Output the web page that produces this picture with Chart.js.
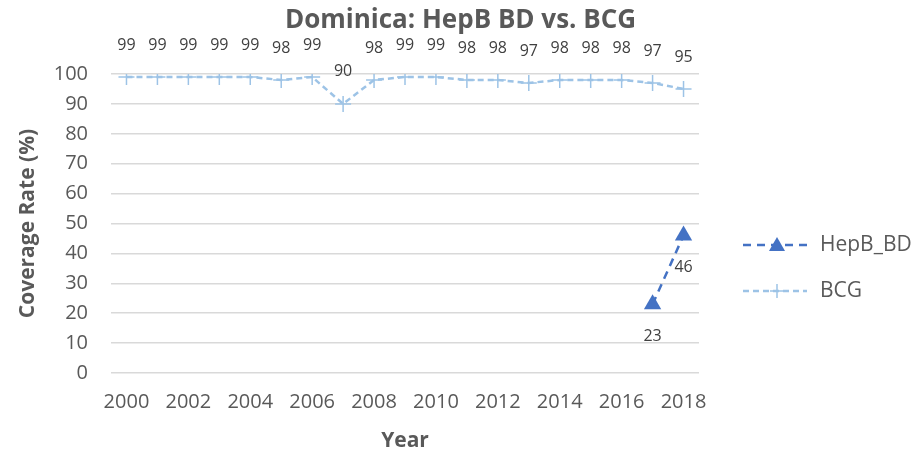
<!DOCTYPE html>
<html>
<head>
<meta charset="utf-8">
<script src="https://cdn.jsdelivr.net/npm/chart.js@4/dist/chart.umd.min.js"></script>
<style>
  html, body { margin: 0; padding: 0; background: #fff; }
  #wrap { width: 913px; height: 455px; }
</style>
</head>
<body>
<div id="wrap"><canvas id="chart" width="913" height="455"></canvas></div>
<script>
// chart data
const years = ['2000','2001','2002','2003','2004','2005','2006','2007','2008','2009',
               '2010','2011','2012','2013','2014','2015','2016','2017','2018'];
const bcg = [99, 99, 99, 99, 99, 98, 99, 90, 98, 99, 99, 98, 98, 97, 98, 98, 98, 97, 95];
const hepbBD = [null, null, null, null, null, null, null, null, null, null,
                null, null, null, null, null, null, null, 23, 46];

const FONT = '"Open Sans", "Liberation Sans", sans-serif';
const TEXT = '#595959';
const HEPB_COLOR = '#4472C4';
const BCG_COLOR = '#9DC3E6';

// value labels, title and legend, drawn the Excel way
const extras = {
  id: 'extras',
  afterDatasetsDraw(chart) {
    const ctx = chart.ctx;
    const area = chart.chartArea;
    ctx.save();

    // value labels
    ctx.font = '16px ' + FONT;
    ctx.fillStyle = '#404040';
    ctx.textAlign = 'center';
    ctx.textBaseline = 'middle';
    chart.data.datasets.forEach((ds, i) => {
      const meta = chart.getDatasetMeta(i);
      const dy = ds.labelPos === 'below' ? 32 : -32;
      meta.data.forEach((pt, j) => {
        const v = ds.data[j];
        if (v === null || v === undefined) return;
        ctx.fillText(String(v), pt.x, pt.y + dy);
      });
    });

    // title
    ctx.font = 'bold 26px ' + FONT;
    ctx.fillStyle = TEXT;
    ctx.fillText('Dominica: HepB BD vs. BCG', chart.width / 2 + 4, 21);

    // legend
    const lx = area.right + 44;
    const rows = [
      { label: 'HepB_BD', color: HEPB_COLOR, dash: [8, 6], width: 2.5, y: 245 },
      { label: 'BCG', color: BCG_COLOR, dash: [6, 4], width: 2.5, y: 291 }
    ];
    rows.forEach(r => {
      ctx.strokeStyle = r.color;
      ctx.lineWidth = r.width;
      ctx.setLineDash(r.dash);
      ctx.beginPath();
      ctx.moveTo(lx, r.y);
      ctx.lineTo(lx + 64, r.y);
      ctx.stroke();
      ctx.setLineDash([]);
      const cx = lx + 34;
      if (r.label === 'HepB_BD') {
        ctx.fillStyle = r.color;
        ctx.beginPath();
        ctx.moveTo(cx, r.y - 8);
        ctx.lineTo(cx + 8, r.y + 6);
        ctx.lineTo(cx - 8, r.y + 6);
        ctx.closePath();
        ctx.fill();
      } else {
        ctx.lineWidth = 1.5;
        ctx.beginPath();
        ctx.moveTo(cx - 7, r.y); ctx.lineTo(cx + 7, r.y);
        ctx.moveTo(cx, r.y - 7); ctx.lineTo(cx, r.y + 7);
        ctx.stroke();
      }
      ctx.font = '21px ' + FONT;
      ctx.fillStyle = TEXT;
      ctx.textAlign = 'left';
      ctx.fillText(r.label, lx + 77, r.y);
      ctx.textAlign = 'center';
    });

    ctx.restore();
  }
};

new Chart(document.getElementById('chart'), {
  type: 'line',
  data: {
    labels: years,
    datasets: [
      {
        label: 'HepB_BD',
        data: hepbBD,
        labelPos: 'below',
        borderColor: HEPB_COLOR,
        backgroundColor: HEPB_COLOR,
        borderWidth: 2.5,
        borderDash: [8, 6],
        pointStyle: 'triangle',
        pointRadius: 10,
        pointBorderWidth: 0,
        tension: 0
      },
      {
        label: 'BCG',
        data: bcg,
        labelPos: 'above',
        borderColor: BCG_COLOR,
        backgroundColor: BCG_COLOR,
        borderWidth: 2.5,
        borderDash: [6, 4],
        pointStyle: 'cross',
        pointRadius: 8,
        pointBorderWidth: 1.5,
        tension: 0
      }
    ]
  },
  options: {
    responsive: false,
    animation: false,
    layout: { padding: { top: 74, right: 214, left: 0, bottom: 0 } },
    plugins: {
      legend: { display: false },
      title: { display: false },
      tooltip: { enabled: false }
    },
    scales: {
      x: {
        offset: true,
        afterFit: s => { s.height = 82; },
        grid: { display: false, drawTicks: false },
        border: { display: false },
        ticks: {
          color: TEXT,
          font: { family: FONT, size: 20 },
          padding: 17,
          autoSkip: false,
          maxRotation: 0,
          callback: function (val, idx) { return idx % 2 === 0 ? this.getLabelForValue(val) : ''; }
        },
        title: {
          display: true, text: 'Year', color: TEXT,
          font: { family: FONT, size: 21, weight: 'bold' },
          padding: { top: 1, bottom: 1 }
        }
      },
      y: {
        min: 0, max: 100,
        afterFit: s => { s.width = 111; },
        grid: { color: '#d9d9d9', lineWidth: 1.5, drawTicks: false },
        border: { display: false },
        ticks: {
          stepSize: 10,
          color: TEXT,
          font: { family: FONT, size: 20 },
          padding: 23
        },
        title: {
          display: true, text: 'Coverage Rate (%)', color: TEXT,
          font: { family: FONT, size: 21, weight: 'bold' },
          padding: { top: 15, bottom: 0 }
        }
      }
    }
  },
  plugins: [extras]
});
</script>
</body>
</html>
